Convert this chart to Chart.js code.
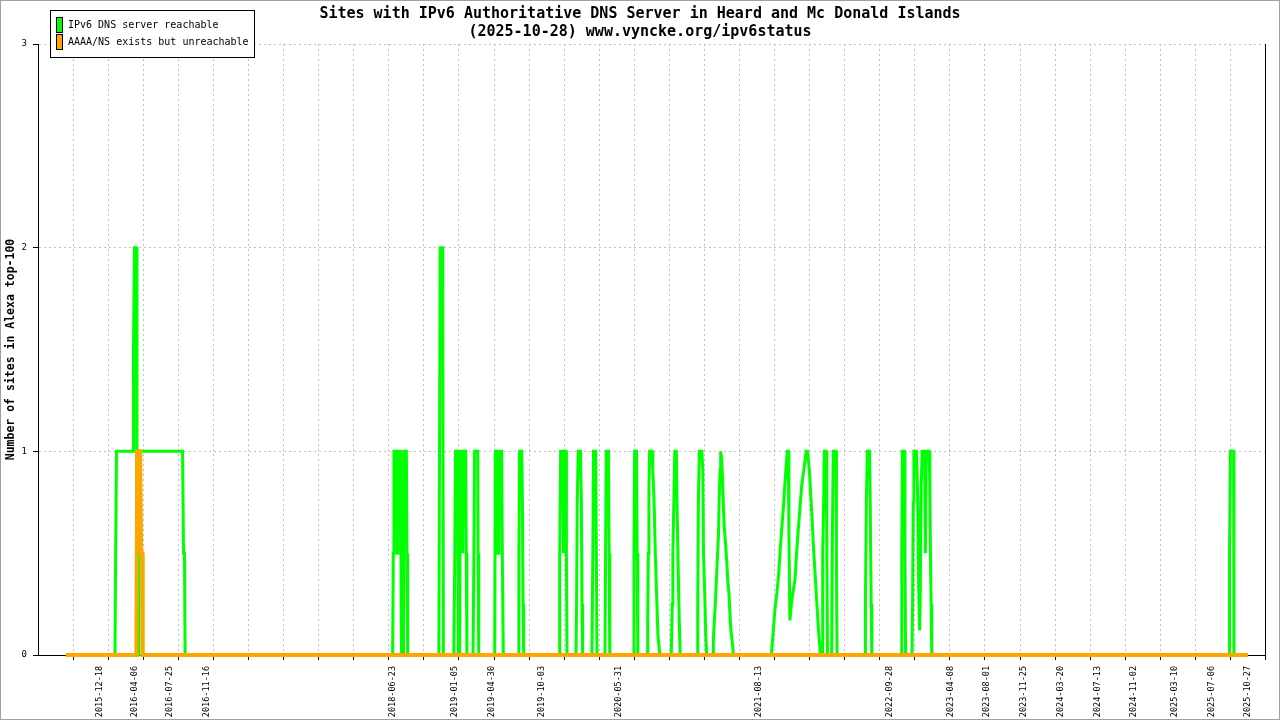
<!DOCTYPE html>
<html>
<head>
<meta charset="utf-8">
<script src="https://cdn.jsdelivr.net/npm/chart.js@4.4.0/dist/chart.umd.min.js"></script>
<style>
  html, body { margin: 0; padding: 0; background: #fff; }
  canvas { display: block; }
</style>
</head>
<body>
<canvas id="chart" width="1280" height="720"></canvas>
<script>
const titleLines = [
    "Sites with IPv6 Authoritative DNS Server in Heard and Mc Donald Islands",
    "(2025-10-28) www.vyncke.org/ipv6status"
];
const seriesNames = ["IPv6 DNS server reachable", "AAAA/NS exists but unreachable"];
const yTitle = "Number of sites in Alexa top-100";

// x values are days counted from 2015-12-18
const dayZero = Date.UTC(2015, 11, 18);
const tickLabels = [
    "2015-12-18", "2016-04-06", "2016-07-25", "2016-11-16", "2018-06-23",
    "2019-01-05", "2019-04-30", "2019-10-03", "2020-05-31", "2021-08-13",
    "2022-09-28", "2023-04-08", "2023-08-01", "2023-11-25", "2024-03-20",
    "2024-07-13", "2024-11-02", "2025-03-10", "2025-07-06", "2025-10-27"
];
const gridDays = [
    -84, 26, 136, 246, 356, 466, 576, 686, 796, 906, 1016, 1126, 1236, 1346, 1456, 1566, 1676,
    1786, 1896, 2006, 2116, 2226, 2336, 2446, 2556, 2666, 2776, 2886, 2996, 3106, 3216, 3326, 3436, 3546
];
const yTicks = [0, 1, 2, 3];

const reachableDays = [
    -107, 47, 49, 52, 104, 105, 108, 114, 116, 122, 124, 259, 262, 265, 267,
    918, 920, 922, 930, 932, 934, 942, 944, 946, 952, 954, 961, 963, 965,
    1063, 1065, 1067, 1075, 1077,
    1110, 1113, 1115, 1122, 1124, 1128, 1130, 1137, 1138, 1140, 1147, 1149, 1151,
    1170, 1173, 1175, 1185, 1186, 1188,
    1238, 1240, 1246, 1248, 1251, 1253, 1260, 1262, 1265,
    1312, 1314, 1316, 1323, 1325, 1327, 1329,
    1440, 1442, 1445, 1452, 1454, 1456, 1462, 1463, 1465,
    1493, 1495, 1497, 1500, 1507, 1510, 1512, 1514,
    1543, 1546, 1548, 1555, 1557, 1559,
    1584, 1586, 1588, 1595, 1597, 1599,
    1674, 1675, 1677, 1683, 1685, 1687,
    1716, 1718, 1720, 1722, 1724, 1732, 1734, 1736, 1739, 1742, 1746, 1750, 1756,
    1792, 1795, 1797, 1800, 1803, 1808, 1810, 1814, 1817, 1820,
    1873, 1875, 1877, 1880, 1888, 1891, 1893, 1897, 1900, 1903,
    1923, 1924, 1930, 1935, 1940, 1942, 1945, 1947, 1950, 1953, 1955, 1958, 1962, 1966, 1969, 1973, 1976, 1979, 1985, 1987,
    2106, 2112, 2117, 2123, 2129, 2133, 2138, 2143, 2148, 2152, 2156, 2159, 2161, 2164, 2170, 2180,
    2185, 2191, 2196, 2201, 2208, 2215, 2219, 2225, 2229, 2234, 2238, 2243, 2248, 2253, 2259, 2260,
    2265, 2267, 2270, 2272, 2278, 2280, 2282,
    2295, 2297, 2300, 2309, 2310, 2312,
    2400, 2401, 2404, 2407, 2414, 2416, 2419, 2421,
    2513, 2515, 2517, 2524, 2525, 2527,
    2547, 2549, 2551, 2553, 2561, 2563, 2566, 2568, 2571, 2573, 2576, 2579, 2587, 2589, 2592, 2601, 2603, 2605, 2607, 2609,
    3542, 3543, 3546, 3556, 3557, 3601
];
const reachableVals = [
    0, 0, 0.5, 1, 1, 1.5, 2, 2, 0, 0, 1, 1, 0.5, 0.5, 0,
    0, 0.5, 1, 1, 0.5, 1, 1, 0.5, 0, 0, 1, 1, 0.5, 0,
    0, 1, 2, 2, 0,
    0, 0.5, 1, 1, 0, 0, 1, 1, 0.5, 1, 1, 0.5, 0,
    0, 0.5, 1, 1, 0.5, 0,
    0, 1, 1, 0.5, 0.5, 1, 1, 0.5, 0,
    0, 0.5, 1, 1, 0.75, 0.25, 0,
    0, 0.5, 1, 1, 0.5, 1, 1, 0.5, 0,
    0, 0.25, 0.75, 1, 1, 0.75, 0.25, 0,
    0, 0.5, 1, 1, 0.5, 0,
    0, 0.5, 1, 1, 0.5, 0,
    0, 0.5, 1, 1, 0.5, 0,
    0, 0.17, 0.5, 0.83, 1, 1, 0.9, 0.84, 0.7, 0.49, 0.3, 0.1, 0,
    0, 0.25, 0.5, 0.75, 1, 1, 0.75, 0.4, 0.17, 0,
    0, 0.25, 0.75, 1, 1, 0.9, 0.5, 0.3, 0.1, 0,
    0, 0.08, 0.25, 0.42, 0.59, 0.75, 0.91, 1, 0.96, 0.86, 0.75, 0.63, 0.55, 0.46, 0.37, 0.3, 0.2, 0.12, 0.04, 0,
    0, 0.12, 0.22, 0.3, 0.4, 0.5, 0.61, 0.71, 0.83, 0.92, 1, 1, 0.6, 0.17, 0.27, 0.37,
    0.5, 0.63, 0.73, 0.83, 0.91, 1, 1, 0.91, 0.8, 0.66, 0.53, 0.4, 0.27, 0.14, 0.02, 0,
    0, 0.5, 0.75, 1, 1, 0.5, 0,
    0, 0.5, 1, 1, 0.5, 0,
    0, 0.25, 0.75, 1, 1, 0.75, 0.25, 0,
    0, 0.5, 1, 1, 0.5, 0,
    0, 0.25, 0.75, 1, 1, 0.9, 0.7, 0.35, 0.12, 0.3, 0.83, 1, 1, 0.5, 1, 1, 0.83, 0.5, 0.25, 0,
    0, 0.5, 1, 1, 0, 0
];
const unreachableDays = [-107, 114, 117, 126, 129, 133, 134, 3601];
const unreachableVals = [0, 0, 1, 1, 0.5, 0.5, 0, 0];

const FONT = "'DejaVu Sans Mono', 'Liberation Mono', monospace";
const X_MIN = -194.5;
const X_MAX = 3654.4;

function toDay(s) {
    const [y, m, d] = s.split("-").map(Number);
    return (Date.UTC(y, m - 1, d) - dayZero) / 86400000;
}
const labelDays = tickLabels.map(toDay);

function points(days, vals) {
    return days.map((d, i) => ({ x: d, y: vals[i] }));
}

// title, legend box and frame, gnuplot style
const decorations = {
    id: "decorations",
    afterDraw(chart) {
        const ctx = chart.ctx;
        const area = chart.chartArea;
        ctx.save();

        ctx.fillStyle = "#000";
        ctx.textAlign = "center";
        ctx.textBaseline = "middle";
        ctx.font = "bold 15px " + FONT;
        ctx.fillText(titleLines[0], 640, 14);
        ctx.fillText(titleLines[1], 640, 32);

        // legend
        ctx.fillStyle = "#fff";
        ctx.fillRect(50, 10, 204, 47);
        ctx.strokeStyle = "#000";
        ctx.lineWidth = 1;
        ctx.strokeRect(50.5, 10.5, 204, 47);
        ctx.font = "10px " + FONT;
        ctx.textAlign = "left";
        chart.data.datasets.forEach((ds, i) => {
            const y = 17 + i * 17;
            ctx.fillStyle = ds.borderColor;
            ctx.fillRect(56, y, 6, 15);
            ctx.strokeStyle = "#000";
            ctx.strokeRect(56.5, y + 0.5, 6, 15);
            ctx.fillStyle = "#000";
            ctx.fillText(ds.label, 68, y + 8);
        });

        // right border
        ctx.strokeStyle = "#000";
        ctx.beginPath();
        ctx.moveTo(Math.round(area.right) + 0.5, area.top);
        ctx.lineTo(Math.round(area.right) + 0.5, area.bottom + 5);
        ctx.stroke();

        // outer frame
        ctx.strokeStyle = "#a0a0a0";
        ctx.strokeRect(0.5, 0.5, 1279, 719);
        ctx.restore();
    }
};

const ctx = document.getElementById("chart").getContext("2d");
new Chart(ctx, {
    type: "line",
    data: {
        datasets: [
            {
                label: seriesNames[0],
                data: points(reachableDays, reachableVals),
                borderColor: "#00ff00",
                backgroundColor: "#00ff00",
                borderWidth: 3,
                pointRadius: 0,
                tension: 0,
                order: 1,
                clip: false
            },
            {
                label: seriesNames[1],
                data: points(unreachableDays, unreachableVals),
                borderColor: "#ffa500",
                backgroundColor: "#ffa500",
                borderWidth: 4,
                pointRadius: 0,
                tension: 0,
                order: 0,
                clip: false
            }
        ]
    },
    options: {
        responsive: false,
        animation: false,
        devicePixelRatio: 1,
        layout: { padding: { top: 44, right: 15, left: 0, bottom: 0 } },
        plugins: {
            legend: { display: false },
            tooltip: { enabled: false },
            title: { display: false }
        },
        scales: {
            x: {
                type: "linear",
                position: "bottom",
                min: X_MIN,
                max: X_MAX,
                afterBuildTicks: s => { s.ticks = gridDays.map(v => ({ value: v })); },
                afterFit: s => { s.height = 5; },
                ticks: { display: false },
                grid: { color: "#c0c0c0", lineWidth: 1, tickLength: 5, tickColor: "#000" },
                border: { display: true, color: "#000", width: 1, dash: [2, 3] }
            },
            xl: {
                type: "linear",
                position: "bottom",
                weight: 1,
                min: X_MIN,
                max: X_MAX,
                afterBuildTicks: s => { s.ticks = labelDays.map(v => ({ value: v })); },
                afterFit: s => { s.height = 60; },
                grid: { display: false, drawTicks: false },
                border: { display: false },
                ticks: {
                    autoSkip: false,
                    minRotation: 90,
                    maxRotation: 90,
                    padding: 6,
                    color: "#000",
                    font: { family: FONT, size: 8.5 },
                    callback: (v, i) => tickLabels[i]
                }
            },
            y: {
                type: "linear",
                min: 0,
                max: 3,
                afterBuildTicks: s => { s.ticks = yTicks.map(v => ({ value: v })); },
                afterFit: s => { s.width = 38; },
                ticks: {
                    padding: 6,
                    color: "#000",
                    font: { family: FONT, size: 9 },
                    callback: v => String(v)
                },
                grid: { color: "#c0c0c0", lineWidth: 1, tickLength: 5, tickColor: "#000" },
                border: { display: true, color: "#000", width: 1, dash: [2, 3] },
                title: {
                    display: true,
                    text: yTitle,
                    color: "#000",
                    font: { family: FONT, size: 11.5, weight: "bold" },
                    padding: { top: 4, bottom: 0 }
                }
            }
        }
    },
    plugins: [decorations]
});
</script>
</body>
</html>
